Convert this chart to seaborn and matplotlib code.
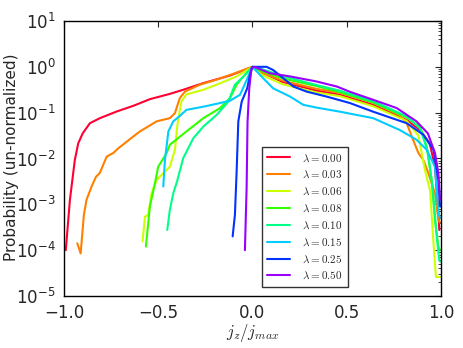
import matplotlib
matplotlib.use("Agg")
import matplotlib.pyplot as plt
import seaborn as sns
import pandas as pd

# lambda values and line colours
lambdas = ["0.00", "0.03", "0.06", "0.08", "0.10", "0.15", "0.25", "0.50"]
colors = ["#ff0033", "#ff8000", "#ccff00", "#33ff00", "#00ff88", "#00ccff", "#0033ff", "#9900ff"]

# curves: x = j_z/j_max, y = probability
x_000 = [-0.99, -0.968, -0.942, -0.924, -0.90, -0.862, -0.809, -0.72, -0.632, -0.544, -0.438, -0.367,
         -0.261, -0.119, 0.0, 0.05, 0.16, 0.34, 0.464, 0.64, 0.818, 0.889, 0.94, 0.968, 0.986, 0.991]
y_000 = [1e-4, 1.26e-3, 9.3e-3, 0.0214, 0.0355, 0.0589, 0.0759, 0.106, 0.141, 0.197, 0.257, 0.316,
         0.441, 0.646, 1.0, 0.759, 0.468, 0.302, 0.245, 0.148, 0.0692, 0.0417, 0.0214, 6.6e-3, 6.5e-4, 2.75e-4]

x_003 = [-0.929, -0.911, -0.894, -0.88, -0.853, -0.83, -0.81, -0.773, -0.738, -0.712, -0.632, -0.597,
         -0.508, -0.438, -0.411, -0.394, -0.385, -0.358, -0.279, -0.19, -0.10, 0.0, 0.05, 0.16, 0.34,
         0.464, 0.64, 0.78, 0.818, 0.845, 0.88, 0.906, 0.933, 0.968, 0.986, 0.995]
y_003 = [1.41e-4, 8.5e-5, 5.9e-4, 1.26e-3, 2.45e-3, 3.98e-3, 4.8e-3, 0.011, 0.0132, 0.0166, 0.0302, 0.0389,
         0.0646, 0.0759, 0.0977, 0.162, 0.209, 0.288, 0.407, 0.525, 0.708, 1.0, 0.74, 0.50, 0.33,
         0.27, 0.166, 0.089, 0.0589, 0.0302, 0.0132, 9.3e-3, 4.8e-3, 1.74e-3, 4.6e-4, 4.0e-4]

x_006 = [-0.583, -0.57, -0.553, -0.535, -0.508, -0.473, -0.438, -0.411, -0.399, -0.388, -0.376, -0.35,
         -0.26, -0.172, -0.084, 0.0, 0.05, 0.16, 0.34, 0.464, 0.64, 0.818, 0.88, 0.915, 0.942, 0.959,
         0.973, 0.995]
y_006 = [1.55e-4, 5.4e-4, 5.9e-4, 1.74e-3, 3.4e-3, 4.8e-3, 6.6e-3, 0.0155, 0.050, 0.098, 0.178, 0.251,
         0.316, 0.437, 0.617, 1.0, 0.66, 0.417, 0.275, 0.229, 0.138, 0.066, 0.0316, 5.6e-3, 2.0e-3, 1.66e-4,
         2.6e-5, 2.6e-5]

x_008 = [-0.565, -0.544, -0.517, -0.50, -0.455, -0.438, -0.35, -0.26, -0.172, -0.119, -0.084, -0.057,
         0.0, 0.04, 0.16, 0.34, 0.464, 0.64, 0.818, 0.89, 0.924, 0.95, 0.968, 0.986, 0.995]
y_008 = [1.2e-4, 8.9e-4, 2.9e-3, 6.6e-3, 0.0132, 0.020, 0.0389, 0.0759, 0.126, 0.209, 0.407, 0.562,
         1.0, 0.83, 0.56, 0.38, 0.28, 0.166, 0.079, 0.048, 0.018, 3.4e-3, 4.6e-4, 1.2e-4, 1.0e-4]

x_010 = [-0.452, -0.438, -0.42, -0.40, -0.367, -0.314, -0.26, -0.19, -0.128, -0.093, -0.057, 0.0,
         0.05, 0.16, 0.34, 0.464, 0.64, 0.818, 0.89, 0.93, 0.955, 0.975, 0.99, 0.995]
y_010 = [2.75e-4, 7.6e-4, 1.74e-3, 3.16e-3, 0.0102, 0.0275, 0.050, 0.089, 0.174, 0.407, 0.562, 1.0,
         0.89, 0.63, 0.40, 0.30, 0.178, 0.083, 0.0447, 0.0141, 2.5e-3, 2.5e-4, 6.3e-5, 5.6e-5]

x_015 = [-0.473, -0.464, -0.446, -0.42, -0.388, -0.35, -0.26, -0.172, -0.119, -0.066, -0.03, 0.0,
         0.057, 0.11, 0.2, 0.27, 0.34, 0.464, 0.64, 0.782, 0.87, 0.924, 0.968, 0.986, 0.995]
y_015 = [2.45e-3, 9.3e-3, 0.0389, 0.0646, 0.083, 0.115, 0.135, 0.162, 0.182, 0.245, 0.525, 1.0,
         0.562, 0.339, 0.224, 0.148, 0.129, 0.105, 0.0759, 0.0417, 0.0257, 0.0155, 6.6e-3, 6.5e-4, 5.0e-4]

x_025 = [-0.105, -0.093, -0.084, -0.075, -0.057, -0.028, -0.013, 0.0, 0.022, 0.075, 0.11, 0.164,
         0.217, 0.287, 0.394, 0.517, 0.64, 0.818, 0.906, 0.96, 0.986, 0.995]
y_025 = [2.0e-4, 5.9e-4, 5.1e-3, 0.0646, 0.174, 0.339, 0.676, 1.0, 1.0, 1.0, 0.85, 0.562,
         0.372, 0.288, 0.224, 0.162, 0.105, 0.0589, 0.0331, 0.0155, 3.4e-3, 8.9e-4]

x_050 = [-0.04, -0.031, -0.026, -0.017, -0.005, 0.01, 0.093, 0.2, 0.34, 0.447, 0.52, 0.64, 0.765,
         0.87, 0.93, 0.968, 0.986, 0.995]
y_050 = [1.0e-4, 2.24e-3, 0.0646, 0.339, 0.93, 1.0, 0.724, 0.617, 0.479, 0.372, 0.282, 0.191, 0.126,
         0.0646, 0.0355, 0.0132, 4.8e-3, 1.26e-3]

xs = [x_000, x_003, x_006, x_008, x_010, x_015, x_025, x_050]
ys = [y_000, y_003, y_006, y_008, y_010, y_015, y_025, y_050]

frames = []
for lam, x, y in zip(lambdas, xs, ys):
    frames.append(pd.DataFrame({"jz": x, "p": y, "lam": r"$\lambda=%s$" % lam}))
df = pd.concat(frames, ignore_index=True)

sns.set_style("white")
plt.rcParams["mathtext.fontset"] = "cm"
plt.rcParams["font.family"] = ["DejaVu Sans"]

fig = plt.figure(figsize=(4.63, 3.48), dpi=100)
ax = fig.add_axes([0.138, 0.1494, 0.8145, 0.7903])

sns.lineplot(data=df, x="jz", y="p", hue="lam", palette=colors, estimator=None,
             sort=False, linewidth=1.5, ax=ax)

ax.set_yscale("log")
ax.set_xlim(-1.0, 1.0)
ax.set_ylim(1e-5, 1e1)
ax.set_xticks([-1.0, -0.5, 0.0, 0.5, 1.0])
ax.set_xticklabels(["\u22121.0", "\u22120.5", "0.0", "0.5", "1.0"])
ax.tick_params(which="both", direction="in", top=True, right=True, labelsize=12, pad=6)
ax.tick_params(which="major", length=4, width=0.8)
ax.tick_params(which="minor", length=2, width=0.6)
for s in ax.spines.values():
    s.set_color("black")
    s.set_linewidth(1.0)

ax.set_xlabel(r"$j_z/j_{max}$", fontsize=12)
ax.xaxis.set_label_coords(0.5, -0.095, transform=ax.transAxes)
ax.xaxis.label.set_va("top")
ax.set_ylabel("Probability (un-normalized)", fontsize=11)
ax.yaxis.set_label_coords(-0.12, 0.505)

leg = ax.legend(loc="lower left", bbox_to_anchor=(0.525, 0.033), borderaxespad=0,
                fontsize=8, frameon=True, fancybox=False, handlelength=2.0,
                labelspacing=0.5, borderpad=0.5, handletextpad=1.1)
leg.get_frame().set_edgecolor("black")
leg.get_frame().set_linewidth(1.0)

fig.savefig("out.png", dpi=100)
